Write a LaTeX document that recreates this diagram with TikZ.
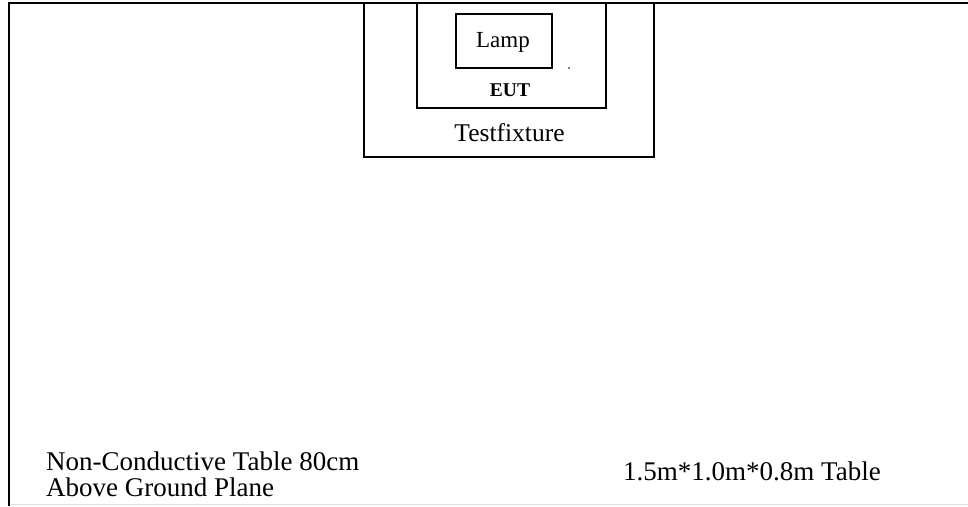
\documentclass[tikz,border=0pt]{standalone}
\usepackage{fontspec}
\setmainfont{Liberation Serif}
\begin{document}
\begin{tikzpicture}[x=1pt,y=-1pt,
  boxline/.style={draw=black,line width=1.3pt},
  frameline/.style={draw=black,line width=2pt},
  bigtxt/.style={inner sep=0pt,font=\fontsize{27}{30}\selectfont},
  midtxt/.style={inner sep=0pt,font=\fontsize{25.5}{28}\selectfont},
  lamptxt/.style={inner sep=0pt,font=\fontsize{23}{26}\selectfont},
  euttxt/.style={inner sep=0pt,font=\bfseries\fontsize{19.5}{23}\selectfont}]
\useasboundingbox (0,0) rectangle (968,506);
% outer table frame
\coordinate (fl) at (9,506);
\coordinate (tl) at (9,3);
\coordinate (tr) at (968,3);
\coordinate (bl) at (9,504.5);
\coordinate (br) at (968,504.5);
\draw[black!12,line width=1pt] (bl) -- (br);
\draw[frameline] (fl) -- (tl) -- (tr);
% boxes
\draw[boxline] (364,3) rectangle (654,157);
\draw[boxline] (417,3) rectangle (606,108);
\draw[boxline] (456,14) rectangle (552,68);
\fill (569,68) circle (0.8);
% texts
\node[lamptxt,anchor=base] (lamp) at (503,47) {Lamp};
\node[euttxt,anchor=base] (eut) at (510,96) {EUT};
\node[midtxt,anchor=base] (tf) at (509.5,141) {Testfixture};
\node[bigtxt,anchor=base west] (t1) at (46,470) {Non-Conductive Table 80cm};
\node[bigtxt,anchor=base west] (t2) at (46,496) {Above Ground Plane};
\node[bigtxt,anchor=base west] (t3) at (623,480) {1.5m*1.0m*0.8m Table};
\end{tikzpicture}
\end{document}
